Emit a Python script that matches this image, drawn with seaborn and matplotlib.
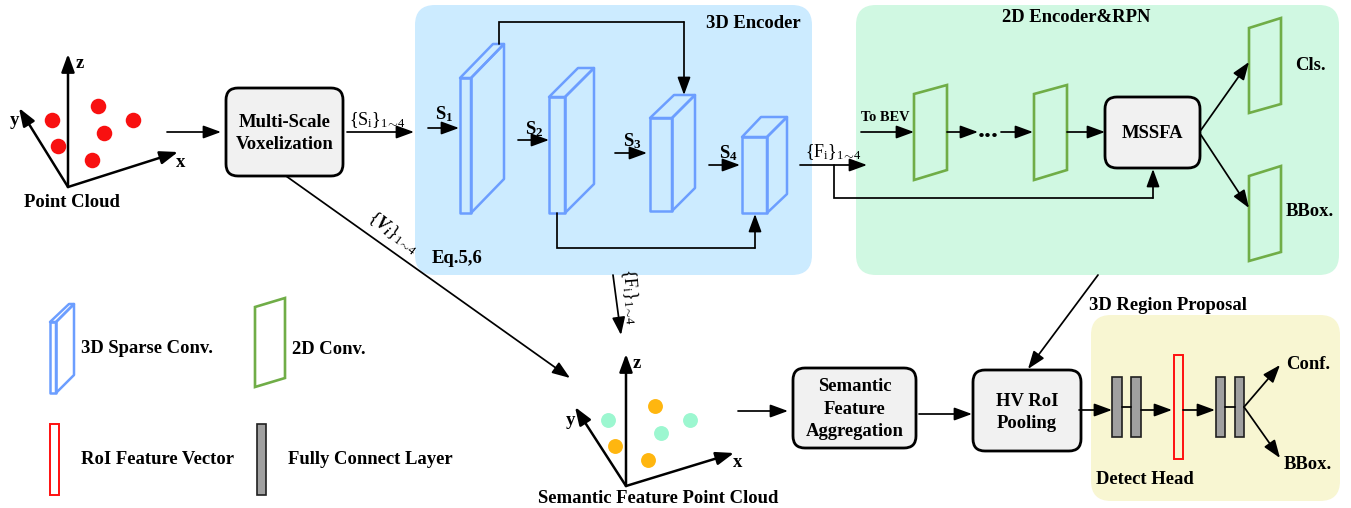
import matplotlib
matplotlib.use("Agg")
import matplotlib.pyplot as plt
from matplotlib.patches import FancyBboxPatch, Polygon, Rectangle
import pandas as pd
import seaborn as sns

# point clouds
cloud_x = [52, 58, 98, 104, 133, 92]
cloud_y = [120, 146, 106, 133, 120, 160]
sem_orange_x = [655, 615, 648]
sem_orange_y = [406, 446, 460]
sem_green_x = [608, 661, 690]
sem_green_y = [420, 433, 420]

# background panels: x0, y0, x1, y1, colour
panels = [
    (415, 5, 812, 275, '#CCEBFF'),
    (856, 5, 1339, 275, '#D0F8E2'),
    (1091, 315, 1340, 501, '#F8F6D2'),
]
# rounded grey boxes
boxes = [
    (226, 88, 343, 176, ['Multi-Scale', 'Voxelization'], [121, 143]),
    (1105, 97, 1200, 168, ['MSSFA'], [132]),
    (793, 368, 916, 448, ['Semantic', 'Feature', 'Aggregation'], [385, 408, 430]),
    (973, 370, 1081, 451, ['HV RoI', 'Pooling'], [400, 422]),
]
# 3D blocks: front x0, x1, y0, y1, back x0, x1, y top, y bottom
blocks = [
    (460, 471, 78, 213, 493, 504, 44, 179),
    (549, 565, 97, 213, 578, 594, 68, 184),
    (650, 672, 118, 211, 674, 695, 95, 188),
    (742, 767, 137, 213, 761, 787, 117, 194),
    (50, 56, 322, 393, 69, 74, 304, 375),
]
# 2D conv: x0, x1, left top, right top, right bottom, left bottom
traps = [
    (914, 947, 94, 85, 170, 180),
    (1034, 1067, 94, 85, 170, 180),
    (1249, 1281, 28, 18, 104, 113),
    (1249, 1281, 176, 166, 252, 261),
    (255, 285, 307, 298, 378, 387),
]
grey_bars = [(1112, 1122, 377, 437), (1131, 1141, 377, 437),
             (1216, 1225, 377, 437), (1235, 1244, 377, 437), (257, 266, 424, 495)]
red_bars = [(1174, 1183, 355, 459), (50, 59, 424, 495)]

arrows = [
    (167, 132, 221, 132), (347, 132, 414, 132),
    (428, 128, 459, 128), (518, 140, 549, 140), (615, 153, 647, 153), (709, 165, 740, 165),
    (800, 165, 867, 165), (861, 132, 914, 132), (947, 132, 978, 132), (1001, 132, 1033, 132),
    (1067, 132, 1105, 132), (1201, 130, 1249, 62), (1201, 135, 1249, 208),
    (286, 176, 570, 378), (613, 275, 621, 335), (1098, 275, 1028, 369),
    (738, 411, 788, 411), (919, 414, 972, 414), (1079, 410, 1112, 410),
    (1141, 410, 1172, 410), (1183, 410, 1215, 410),
    (1244, 407, 1280, 365), (1244, 407, 1280, 458),
]
elbows = [
    ([499, 499, 684, 684], [44, 22, 22, 95]),
    ([557, 557, 755, 755], [213, 248, 248, 214]),
    ([834, 834, 1153, 1153], [165, 198, 198, 169]),
]
plain_lines = [(1122, 407, 1131, 407), (1225, 407, 1235, 407)]
axes_sets = [
    ((68, 187), (68, 54), (19, 108), (178, 152)),
    ((626, 486), (626, 354), (575, 407), (734, 453)),
]

# text, x, y, size, ha, rotation
labels = [
    ('z', 80, 62, 13.5, 'center', 0), ('y', 14, 119, 13.5, 'center', 0), ('x', 181, 161, 13.5, 'center', 0),
    ('Point Cloud', 72, 201, 13.4, 'center', 0),
    ('z', 637, 362, 13.5, 'center', 0), ('y', 570, 419, 13.5, 'center', 0), ('x', 738, 461, 13.5, 'center', 0),
    ('Semantic Feature Point Cloud', 658, 497, 13.4, 'center', 0),
    ('3D Encoder', 753, 22, 13.4, 'center', 0), ('Eq.5,6', 432, 257, 13.4, 'left', 0),
    ('2D Encoder&RPN', 1076, 16, 13.4, 'center', 0), ('To BEV', 885, 116, 10.4, 'center', 0),
    ('Cls.', 1310, 64, 13.4, 'center', 0), ('BBox.', 1310, 210, 13.4, 'center', 0),
    ('3D Region Proposal', 1168, 304, 13.4, 'center', 0),
    ('Conf.', 1308, 363, 13.4, 'center', 0), ('BBox.', 1308, 463, 13.4, 'center', 0),
    ('Detect Head', 1145, 478, 13.4, 'center', 0),
    ('3D Sparse Conv.', 81, 347, 13.4, 'left', 0), ('2D Conv.', 292, 348, 13.4, 'left', 0),
    ('RoI Feature Vector', 81, 458, 13.4, 'left', 0), ('Fully Connect Layer', 288, 458, 13.4, 'left', 0),
    ('...', 988, 129, 20, 'center', 0),
    (r'$\mathbf{S_1}$', 444, 113, 13.5, 'center', 0), (r'$\mathbf{S_2}$', 534, 128, 13.5, 'center', 0),
    (r'$\mathbf{S_3}$', 632, 140, 13.5, 'center', 0), (r'$\mathbf{S_4}$', 728, 152, 13.5, 'center', 0),
]
set_labels = [
    (r'$\{\mathrm{S_i}\}_{1\!\sim\!4}$', 377, 119, 0),
    (r'$\{\mathrm{F_i}\}_{1\!\sim\!4}$', 833, 151, 0),
    (r'$\{V_i\}_{1\!\sim\!4}$', 393, 231, -37),
    (r'$\{\mathrm{F_i}\}_{1\!\sim\!4}$', 630, 295, -85),
]

BLUE = '#6C9EFF'
GREEN = '#70AD47'
FONT = 'Liberation Serif'
TEXT_SHIFT = 1.5

sns.set_theme(style='white')
plt.rcParams['font.family'] = FONT
plt.rcParams['text.color'] = 'black'
plt.rcParams['mathtext.fontset'] = 'custom'
plt.rcParams['mathtext.rm'] = FONT
plt.rcParams['mathtext.it'] = FONT + ':italic:bold'
plt.rcParams['mathtext.bf'] = FONT + ':bold'

fig = plt.figure(figsize=(13.51, 5.08), dpi=100)
ax = fig.add_axes([0, 0, 1, 1])
ax.set_xlim(0, 1351)
ax.set_ylim(508, 0)
ax.axis('off')


def arrow(x0, y0, x1, y1, lw=1.25, scale=12):
    ax.annotate('', xy=(x1, y1), xytext=(x0, y0), zorder=5,
                arrowprops=dict(arrowstyle='-|>,head_length=0.9,head_width=0.33', color='black',
                                lw=lw, shrinkA=0, shrinkB=0, mutation_scale=scale))


for x0, y0, x1, y1, c in panels:
    ax.add_patch(FancyBboxPatch((x0 + 20, y0 + 20), x1 - x0 - 40, y1 - y0 - 40,
                                boxstyle='round,pad=20,rounding_size=20', fc=c, ec='none', zorder=0))

for x0, y0, x1, y1, lines, ys in boxes:
    ax.add_patch(FancyBboxPatch((x0 + 12, y0 + 12), x1 - x0 - 24, y1 - y0 - 24,
                                boxstyle='round,pad=12,rounding_size=12', fc='#F1F1F1', ec='black',
                                lw=2.0, zorder=3))
    for s, y in zip(lines, ys):
        ax.text((x0 + x1) / 2, y + TEXT_SHIFT, s, ha='center', va='center', fontsize=13.4,
                fontweight='bold', zorder=6)

for fx0, fx1, fy0, fy1, bx0, bx1, by0, by1 in blocks:
    for pts in ([(fx0, fy0), (bx0, by0), (bx1, by0), (fx1, fy0)],
                [(fx1, fy0), (bx1, by0), (bx1, by1), (fx1, fy1)],
                [(fx0, fy0), (fx1, fy0), (fx1, fy1), (fx0, fy1)]):
        ax.add_patch(Polygon(pts, closed=True, fc='none', ec=BLUE, lw=1.8, joinstyle='round', zorder=2))

for x0, x1, lt, rt, rb, lb in traps:
    ax.add_patch(Polygon([(x0, lt), (x1, rt), (x1, rb), (x0, lb)], closed=True, fc='none',
                         ec=GREEN, lw=1.9, zorder=2))

for x0, x1, y0, y1 in grey_bars:
    ax.add_patch(Rectangle((x0, y0), x1 - x0, y1 - y0, fc='#A0A0A0', ec='#202020', lw=1.2, zorder=3))
for x0, x1, y0, y1 in red_bars:
    ax.add_patch(Rectangle((x0, y0), x1 - x0, y1 - y0, fc='none', ec='#FF1010', lw=1.4, zorder=3))

for a in arrows:
    arrow(*a)
for xs, ys in elbows:
    ax.plot(xs[:-1], ys[:-1], color='black', lw=1.25, zorder=4, solid_joinstyle='miter')
    arrow(xs[-2], ys[-2], xs[-1], ys[-1])
for x0, y0, x1, y1 in plain_lines:
    ax.plot([x0, x1], [y0, y1], color='black', lw=1.25, zorder=4)

for origin, z, y, x in axes_sets:
    for end in (z, y, x):
        arrow(origin[0], origin[1], end[0], end[1], lw=1.8, scale=12)

sns.scatterplot(data=pd.DataFrame({'x': cloud_x, 'y': cloud_y}), x='x', y='y', ax=ax,
                color='#F81010', s=125, linewidth=0, legend=False, zorder=4)
sns.scatterplot(data=pd.DataFrame({'x': sem_orange_x, 'y': sem_orange_y}), x='x', y='y', ax=ax,
                color='#FFB60F', s=115, linewidth=0, legend=False, zorder=4)
sns.scatterplot(data=pd.DataFrame({'x': sem_green_x, 'y': sem_green_y}), x='x', y='y', ax=ax,
                color='#9CF7D0', s=115, linewidth=0, legend=False, zorder=4)

for s, x, y, size, ha, rot in labels:
    ax.text(x, y + TEXT_SHIFT, s, fontsize=size, ha=ha, va='center', rotation=rot, fontweight='bold', zorder=6)
for s, x, y, rot in set_labels:
    ax.text(x, y + TEXT_SHIFT, s, fontsize=13, ha='center', va='center', rotation=rot, zorder=6)

ax.set_xlim(0, 1351)
ax.set_ylim(508, 0)
ax.axis('off')
fig.savefig('out.png', dpi=100)
